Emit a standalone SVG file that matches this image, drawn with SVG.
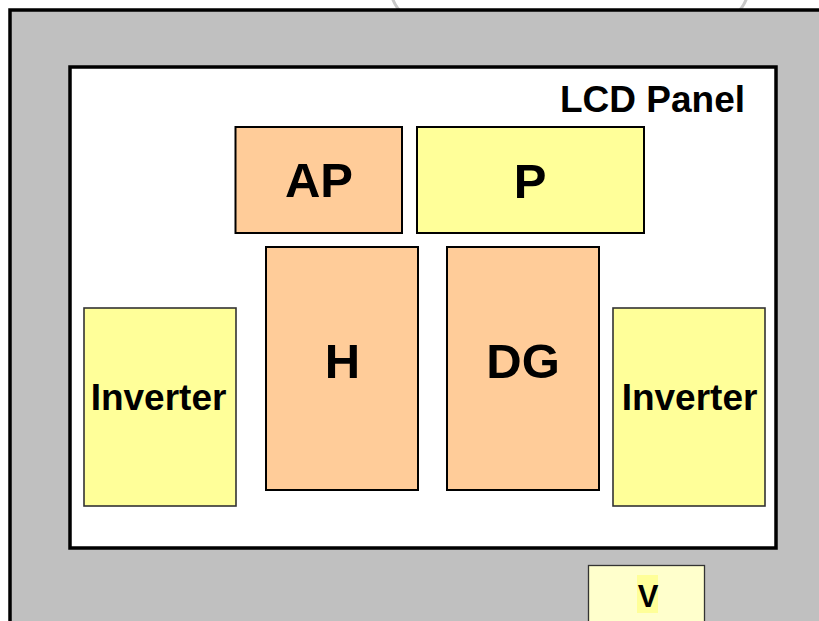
<svg xmlns="http://www.w3.org/2000/svg" width="819" height="621" viewBox="0 0 819 621">
<style>
.lbl{font-family:"Liberation Sans",Arial,sans-serif;font-weight:bold;fill:#000;text-anchor:middle}
.orange{fill:#FFCC99;stroke:#000;stroke-width:2}
.yellow{fill:#FFFF99;stroke:#000;stroke-width:2}
.inv{fill:#FFFF99;stroke:#333;stroke-width:1.6}
</style>
<rect x="0" y="0" width="819" height="621" fill="#fff"/>
<g id="frame-top">
<path d="M392,-3 Q395,7 404,15" fill="none" stroke="#C8C8C8" stroke-width="3"/>
<path d="M747,-3 Q744,7 735,15" fill="none" stroke="#C8C8C8" stroke-width="3"/>
</g>
<g id="chassis">
<rect x="10" y="10" width="830" height="640" fill="#C0C0C0" stroke="#000" stroke-width="3.5"/>
</g>
<g id="lcd-panel">
<rect x="70" y="67" width="706" height="481" fill="#fff" stroke="#000" stroke-width="3.5"/>
<text class="lbl" x="745" y="112" font-size="37" style="text-anchor:end">LCD Panel</text>
</g>
<g id="AP">
<rect class="orange" x="235.5" y="127" width="166.5" height="106"/>
<text class="lbl" x="319" y="197" font-size="49">AP</text>
</g>
<g id="P">
<rect class="yellow" x="417" y="127" width="227" height="106"/>
<text class="lbl" x="530" y="197.5" font-size="49">P</text>
</g>
<g id="H">
<rect class="orange" x="266" y="247" width="152" height="243"/>
<text class="lbl" x="342.5" y="377.5" font-size="49">H</text>
</g>
<g id="DG">
<rect class="orange" x="447" y="247" width="152" height="243"/>
<text class="lbl" x="523" y="378" font-size="49">DG</text>
</g>
<g id="Inverter-left">
<rect class="inv" x="84" y="308" width="152" height="198"/>
<text class="lbl" x="158.5" y="410" font-size="37">Inverter</text>
</g>
<g id="Inverter-right">
<rect class="inv" x="613" y="308" width="152" height="198"/>
<text class="lbl" x="689.5" y="410" font-size="37">Inverter</text>
</g>
<g id="V">
<rect x="588.5" y="565.5" width="116" height="70" fill="#FFFFCC" stroke="#333" stroke-width="1.3"/>
<rect x="637" y="575" width="21" height="38" fill="#FFFF99"/>
<text class="lbl" x="648" y="606.5" font-size="31">V</text>
</g>
<g id="connectors"/>
</svg>
